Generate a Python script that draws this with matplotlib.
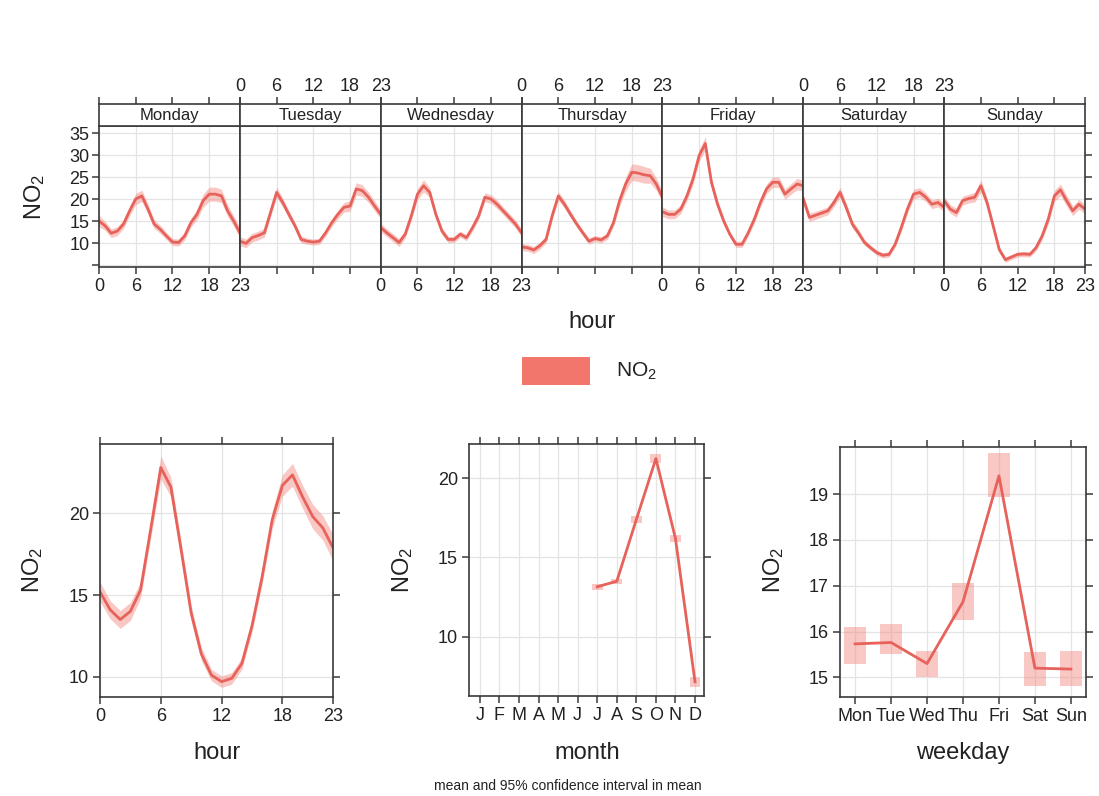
import numpy as np
import matplotlib
matplotlib.use("Agg")
import matplotlib.pyplot as plt
from matplotlib.patches import Rectangle

plt.rcParams["font.family"] = ["Liberation Sans", "DejaVu Sans"]
plt.rcParams["mathtext.fontset"] = "custom"
plt.rcParams["mathtext.rm"] = "Liberation Sans"
plt.rcParams["mathtext.it"] = "Liberation Sans:italic"
plt.rcParams["mathtext.default"] = "regular"

# ---- data ----
day_names = ["Monday", "Tuesday", "Wednesday", "Thursday", "Friday", "Saturday", "Sunday"]
hours = list(range(24))
hour_ticks = [0, 6, 12, 18, 23]

monday = [15.1, 14.0, 12.3, 12.8, 14.4, 17.4, 20.1, 20.8, 17.8, 14.4, 13.2, 11.7,
          10.3, 10.2, 11.7, 14.7, 16.6, 19.7, 21.2, 21.2, 20.8, 17.4, 15.1, 12.4]
tuesday = [10.5, 10.0, 11.3, 11.8, 12.4, 17.0, 21.6, 19.3, 16.6, 14.0, 10.9, 10.5,
           10.3, 10.5, 12.4, 14.7, 16.6, 18.2, 18.5, 22.4, 22.0, 20.5, 18.5, 16.6]
wednesday = [13.6, 12.4, 11.3, 10.2, 12.1, 16.3, 21.2, 23.1, 21.6, 16.6, 12.8, 10.9,
             10.9, 12.1, 11.3, 13.6, 16.3, 20.5, 20.1, 18.9, 17.4, 15.9, 14.4, 12.4]
thursday = [9.2, 9.0, 8.5, 9.5, 10.9, 16.3, 20.8, 18.9, 16.6, 14.4, 12.4, 10.5,
            11.1, 10.8, 11.7, 14.7, 19.7, 23.5, 26.2, 26.0, 25.6, 25.4, 23.5, 20.5]
friday = [17.2, 16.6, 16.6, 17.8, 20.8, 24.7, 30.0, 32.7, 23.9, 18.9, 15.1, 12.1,
          9.8, 9.8, 12.4, 15.5, 19.3, 22.4, 23.9, 23.9, 21.2, 22.4, 23.5, 23.1]
saturday = [20.1, 15.9, 16.4, 16.9, 17.4, 19.3, 21.6, 18.2, 14.4, 12.4, 10.2, 9.0,
            7.9, 7.3, 7.5, 9.8, 13.6, 17.8, 21.2, 21.6, 20.5, 18.9, 19.3, 18.2]
sunday = [19.7, 17.8, 17.0, 19.7, 20.2, 20.5, 23.1, 19.3, 14.0, 8.6, 6.3, 6.9,
          7.5, 7.6, 7.5, 9.0, 11.7, 15.5, 20.8, 22.2, 19.7, 17.4, 18.9, 17.8]
week_means = [monday, tuesday, wednesday, thursday, friday, saturday, sunday]

# half width of the 95% interval, per day and hour
week_ci = [
    [1.3, 1.0, 1.0, 1.0, 1.0, 1.1, 1.3, 1.3, 1.1, 1.0, 0.9, 0.8,
     0.8, 0.8, 0.9, 1.0, 1.2, 1.5, 1.6, 1.6, 1.5, 1.3, 1.2, 1.1],
    [1.0, 1.0, 1.0, 1.0, 1.0, 1.0, 1.2, 1.0, 0.9, 0.8, 0.8, 0.7,
     0.7, 0.7, 0.8, 0.9, 1.0, 1.1, 1.2, 1.4, 1.3, 1.2, 1.1, 1.0],
    [1.0, 0.9, 0.9, 0.9, 0.9, 1.0, 1.2, 1.4, 1.1, 0.9, 0.8, 0.7,
     0.7, 0.7, 0.7, 0.8, 0.9, 1.0, 1.0, 1.0, 0.9, 0.9, 0.9, 0.9],
    [0.8, 0.8, 0.8, 0.8, 0.8, 0.9, 1.0, 0.9, 0.8, 0.7, 0.7, 0.7,
     0.7, 0.7, 0.8, 1.0, 1.3, 1.6, 1.9, 1.9, 1.9, 1.7, 1.4, 1.2],
    [1.1, 1.0, 1.0, 1.0, 1.1, 1.2, 1.4, 1.5, 1.2, 1.0, 0.8, 0.7,
     0.7, 0.7, 0.8, 0.9, 1.0, 1.1, 1.2, 1.2, 1.2, 1.2, 1.3, 1.2],
    [1.0, 1.0, 0.9, 0.9, 0.9, 1.0, 1.2, 1.0, 0.9, 0.8, 0.7, 0.6,
     0.6, 0.6, 0.6, 0.7, 0.9, 1.0, 1.1, 1.1, 1.0, 1.0, 1.0, 1.0],
    [1.0, 1.0, 1.0, 1.0, 1.0, 1.1, 1.4, 1.1, 0.9, 0.7, 0.6, 0.6,
     0.6, 0.6, 0.6, 0.7, 0.9, 1.1, 1.3, 1.3, 1.2, 1.1, 1.1, 1.1],
]

hour_mean = [15.2, 14.1, 13.5, 14.0, 15.3, 19.0, 22.8, 21.6, 17.8, 13.9, 11.4, 10.1,
             9.7, 9.9, 10.8, 13.1, 16.1, 19.6, 21.7, 22.35, 21.0, 19.8, 19.1, 17.9]
hour_ci = [0.6, 0.55, 0.55, 0.55, 0.5, 0.55, 0.7, 0.6, 0.5, 0.45, 0.4, 0.35,
           0.35, 0.35, 0.35, 0.4, 0.45, 0.55, 0.65, 0.7, 0.7, 0.75, 0.75, 0.8]

month_labels = ["J", "F", "M", "A", "M", "J", "J", "A", "S", "O", "N", "D"]
month_num = [7, 8, 9, 10, 11, 12]
month_mean = [13.15, 13.5, 17.4, 21.25, 16.2, 7.15]
month_lo = [12.95, 13.35, 17.15, 20.95, 15.95, 6.85]
month_hi = [13.35, 13.65, 17.65, 21.55, 16.45, 7.45]

weekday_labels = ["Mon", "Tue", "Wed", "Thu", "Fri", "Sat", "Sun"]
weekday_mean = [15.73, 15.76, 15.3, 16.65, 19.4, 15.2, 15.18]
weekday_lo = [15.3, 15.5, 15.0, 16.25, 18.93, 14.8, 14.8]
weekday_hi = [16.1, 16.17, 15.57, 17.07, 19.9, 15.55, 15.57]

# ---- style ----
W, H = 1099, 796
LINE = "#E6625A"
BAND = "#F3857C"
FRAME = "#3a3a3a"
GRID = "#e4e4e4"
TXT = "#222222"
NO2 = "NO$_2$"


def box(x0, y0, x1, y1):
    return [x0 / W, 1 - y1 / H, (x1 - x0) / W, (y1 - y0) / H]


def frame(ax):
    for s in ax.spines.values():
        s.set_color(FRAME)
        s.set_linewidth(1.2)
    ax.tick_params(direction="out", length=5, width=1.1, color=FRAME,
                   labelcolor=TXT, pad=3)
    ax.grid(True, color=GRID, lw=0.9)
    ax.set_axisbelow(True)


fig = plt.figure(figsize=(W / 100, H / 100), dpi=100)

# ---- top: hour by weekday ----
edges = np.linspace(99, 1085, 8)
for i in range(7):
    ax = fig.add_axes(box(edges[i], 126, edges[i + 1], 266.7))
    frame(ax)
    m = np.array(week_means[i])
    c = np.array(week_ci[i])
    ax.fill_between(hours, m - c, m + c, color=BAND, alpha=0.45, lw=0)
    ax.plot(hours, m, color=LINE, lw=2)
    ax.set_xlim(0, 23)
    ax.set_ylim(4.7, 36.7)
    ax.set_xticks(hour_ticks)
    ax.set_yticks([5, 10, 15, 20, 25, 30, 35])
    ax.set_yticklabels(["", "10", "15", "20", "25", "30", "35"])
    ax.tick_params(axis="x", bottom=True, top=False, labelbottom=(i % 2 == 0),
                   labelsize=13)
    ax.tick_params(axis="y", left=(i == 0), right=(i == 6), labelleft=(i == 0),
                   labelright=False, labelsize=13, pad=2)

    strip = fig.add_axes(box(edges[i], 104.3, edges[i + 1], 126))
    for s in strip.spines.values():
        s.set_color(FRAME)
        s.set_linewidth(1.2)
    strip.set_xlim(0, 23)
    strip.set_xticks(hour_ticks)
    strip.set_yticks([])
    strip.tick_params(axis="x", direction="out", length=5, width=1.1, color=FRAME,
                      labelcolor=TXT, bottom=False, top=True, labelbottom=False,
                      labeltop=(i % 2 == 1), labelsize=13, pad=2)
    strip.text(0.5, 0.47, day_names[i], transform=strip.transAxes, ha="center",
               va="center", fontsize=12, color=TXT)

fig.text(35 / W, 1 - 197 / H, NO2, rotation=90, ha="center", va="center",
         fontsize=17, color=TXT)
fig.text(592 / W, 1 - 322 / H, "hour", ha="center", va="center", fontsize=17, color=TXT)

# legend
fig.add_artist(Rectangle((522 / W, 1 - 385 / H), 68 / W, 28 / H,
                         transform=fig.transFigure, color="#F2766C", lw=0))
fig.text(616 / W, 1 - 371 / H, NO2, ha="left", va="center", fontsize=15, color=TXT)

# ---- bottom left: hour ----
ax = fig.add_axes(box(100, 444, 333, 697))
frame(ax)
hm = np.array(hour_mean)
hc = np.array(hour_ci)
ax.fill_between(hours, hm - hc, hm + hc, color=BAND, alpha=0.45, lw=0)
ax.plot(hours, hm, color=LINE, lw=2)
ax.set_xlim(0, 23)
ax.set_ylim(8.76, 24.24)
ax.set_xticks(hour_ticks)
ax.set_yticks([10, 15, 20])
ax.tick_params(top=True, right=True, labelsize=13)
fig.text(33 / W, 1 - 570 / H, NO2, rotation=90, ha="center", va="center",
         fontsize=17, color=TXT)
fig.text(217 / W, 1 - 753 / H, "hour", ha="center", va="center", fontsize=17, color=TXT)

# ---- bottom middle: month ----
ax = fig.add_axes(box(469, 444, 704, 696))
frame(ax)
for mn, lo, hi in zip(month_num, month_lo, month_hi):
    ax.add_patch(Rectangle((mn - 0.28, lo), 0.56, hi - lo, color=BAND, alpha=0.45, lw=0))
ax.plot(month_num, month_mean, color=LINE, lw=2)
ax.set_xlim(0.44, 12.46)
ax.set_ylim(6.25, 22.17)
ax.set_xticks(range(1, 13))
ax.set_xticklabels(month_labels)
ax.set_yticks([10, 15, 20])
ax.tick_params(top=True, right=True, labelsize=13)
fig.text(403 / W, 1 - 570 / H, NO2, rotation=90, ha="center", va="center",
         fontsize=17, color=TXT)
fig.text(587 / W, 1 - 753 / H, "month", ha="center", va="center", fontsize=17, color=TXT)
fig.text(568 / W, 1 - 786 / H, "mean and 95% confidence interval in mean",
         ha="center", va="center", fontsize=10, color=TXT)

# ---- bottom right: weekday ----
ax = fig.add_axes(box(840, 447, 1086, 697))
frame(ax)
for d, lo, hi in zip(range(1, 8), weekday_lo, weekday_hi):
    ax.add_patch(Rectangle((d - 0.3, lo), 0.6, hi - lo, color=BAND, alpha=0.45, lw=0))
ax.plot(range(1, 8), weekday_mean, color=LINE, lw=2)
ax.set_xlim(0.58, 7.42)
ax.set_ylim(14.57, 20.03)
ax.set_xticks(range(1, 8))
ax.set_xticklabels(weekday_labels)
ax.set_yticks([15, 16, 17, 18, 19])
ax.tick_params(top=True, right=True, labelsize=13)
fig.text(774 / W, 1 - 570 / H, NO2, rotation=90, ha="center", va="center",
         fontsize=17, color=TXT)
fig.text(963 / W, 1 - 753 / H, "weekday", ha="center", va="center", fontsize=17, color=TXT)

fig.savefig("out.png", dpi=100)
